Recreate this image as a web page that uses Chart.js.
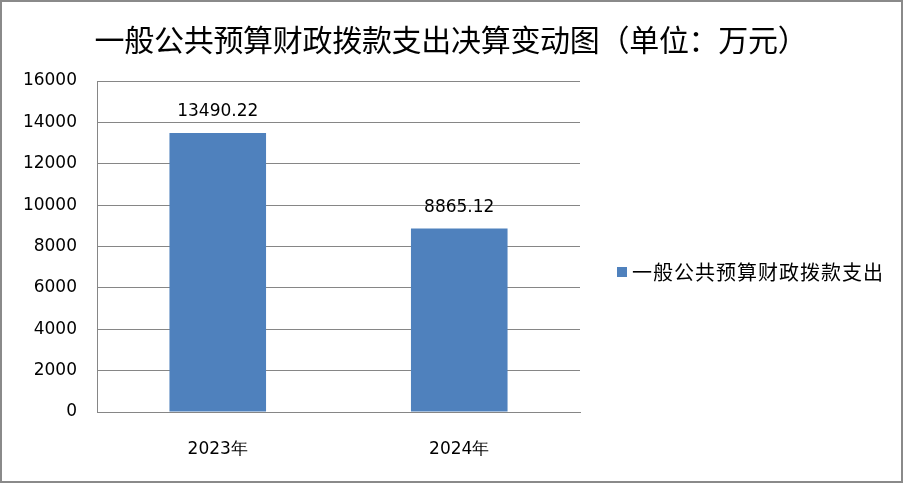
<!DOCTYPE html>
<html><head><meta charset="utf-8">
<script src="https://cdn.jsdelivr.net/npm/chart.js@4.4.0/dist/chart.umd.min.js"></script>
<style>
html,body{margin:0;padding:0;background:#fff;}
#wrap{position:absolute;left:0;top:0;width:903px;height:483px;box-sizing:border-box;border:2px solid #8a8a8a;background:#fff;}
canvas{display:block;}
</style></head>
<body>
<div id="wrap"><canvas id="c" width="899" height="479"></canvas></div>
<script>
const titleText = '一般公共预算财政拨款支出决算变动图（单位：万元）';
const categories = ['2023年', '2024年'];
const seriesName = '一般公共预算财政拨款支出';
const seriesValues = [13490.22, 8865.12];
const yTicks = [0, 2000, 4000, 6000, 8000, 10000, 12000, 14000, 16000];

const barColor = '#4F81BD';
const gridColor = '#868686';
const numFont = '"DejaVu Sans", sans-serif';
const cjkFont = '"Noto Sans CJK SC", sans-serif';

const labelPlugin = {
  id: 'labels',
  afterDatasetsDraw(chart) {
    const ctx = chart.ctx;
    const meta = chart.getDatasetMeta(0);
    ctx.save();
    // title
    ctx.fillStyle = '#000';
    ctx.font = '30px ' + cjkFont;
    ctx.textAlign = 'center';
    ctx.textBaseline = 'middle';
    ctx.letterSpacing = '-0.3px';
    ctx.fillText(titleText, 449, 38);
    ctx.letterSpacing = '0px';
    // data labels
    ctx.font = '17px ' + numFont;
    meta.data.forEach((bar, i) => {
      ctx.fillText(chart.data.datasets[0].data[i].toFixed(2), bar.x, bar.y - 21);
    });
    // legend
    const ds = chart.data.datasets[0];
    const lx = 615, ly = 270;
    ctx.fillStyle = ds.backgroundColor;
    ctx.fillRect(lx, ly - 5, 10, 10);
    ctx.fillStyle = '#000';
    ctx.font = '20px ' + cjkFont;
    ctx.textAlign = 'left';
    ctx.letterSpacing = '1px';
    ctx.fillText(ds.label, lx + 15, ly);
    ctx.restore();
  }
};

new Chart(document.getElementById('c'), {
  type: 'bar',
  data: {
    labels: categories,
    datasets: [{
      label: seriesName,
      data: seriesValues,
      backgroundColor: barColor,
      borderWidth: 0,
      barPercentage: 0.4,
      categoryPercentage: 1.0
    }]
  },
  options: {
    responsive: false,
    animation: false,
    layout: { padding: { left: 0, right: 321, top: 79, bottom: 0 } },
    plugins: {
      legend: { display: false },
      tooltip: { enabled: false },
      title: { display: false }
    },
    scales: {
      x: {
        grid: { display: false, drawTicks: false },
        border: { display: true, color: gridColor, width: 1 },
        ticks: { color: '#000', font: { family: numFont, size: 17 }, padding: 27 },
        afterFit(s) { s.height = 69; }
      },
      y: {
        min: 0, max: 16000,
        afterBuildTicks(s) { s.ticks = yTicks.map(v => ({ value: v })); },
        grid: { color: gridColor, drawTicks: false, lineWidth: 1 },
        border: { display: true, color: gridColor, width: 1 },
        ticks: { color: '#000', font: { family: numFont, size: 17 }, padding: 20,
                 callback: (v) => String(v) },
        afterFit(s) { s.width = 95; }
      }
    }
  },
  plugins: [labelPlugin]
});
</script>
</body></html>
